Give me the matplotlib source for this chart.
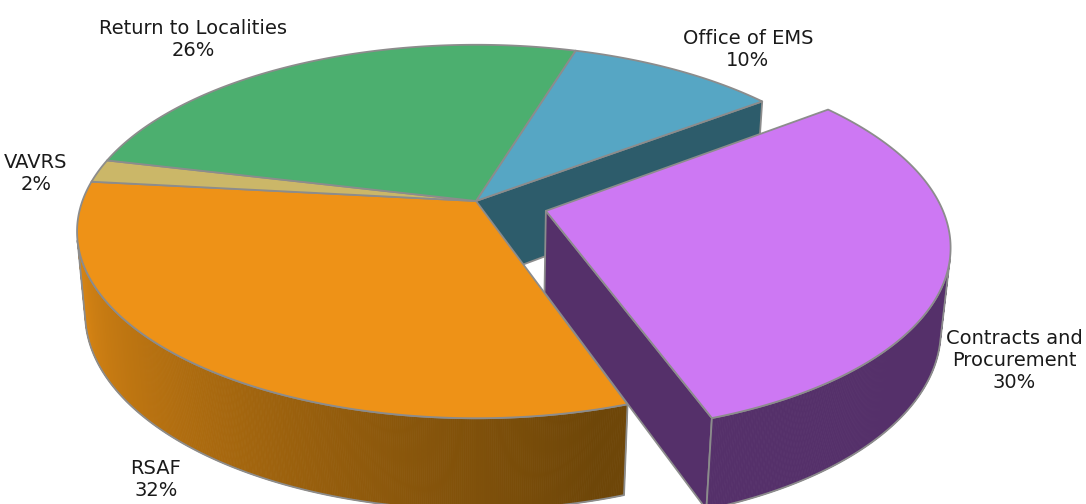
import numpy as np
import matplotlib
matplotlib.use('Agg')
import matplotlib.pyplot as plt
from matplotlib.patches import Polygon
from matplotlib.colors import to_rgb


# Data (clockwise from the top)
labels = ["Office of EMS", "Contracts and\nProcurement", "RSAF", "VAVRS",
          "Return to Localities"]
shares = [10, 30, 32, 2, 26]
explode = [0, 0.184, 0, 0, 0]

top_colors = ["#56a6c4", "#cd78f3", "#ee9217", "#cbb768", "#4caf6f"]
side_colors = ["#2d5c6b", "#55306a", "#6e4608", "#7d6e33", "#2c6b43"]

# label block centres in pixels (layout only)
label_pos = [(748, 50), (1014, 361), (156, 479), (36, 173), (193, 39)]

# View of the tilted pie (perspective camera)
W, H = 1086, 504
start_deg = 73.0
phi = np.radians(27.5)
D = 5.43
scale = 393.6
cx, cy = 476, 201
thick = 0.237
edge = "#8c8c8c"
cam = np.array([0.0, -D * np.cos(phi), D * np.sin(phi)])


def project(X, Y, Z):
    depth = D + Y * np.cos(phi) - Z * np.sin(phi)
    up = Y * np.sin(phi) + Z * np.cos(phi)
    f = scale * D
    return cx + f * X / depth, cy - f * up / depth


def mix(c1, c2, w):
    a, b = np.array(to_rgb(c1)), np.array(to_rgb(c2))
    return tuple(a * (1 - w) + b * w)


fig = plt.figure(figsize=(W / 100, H / 100), dpi=100)
ax = fig.add_axes([0, 0, 1, 1])
ax.set_xlim(0, W)
ax.set_ylim(H, 0)
ax.axis("off")

total = float(sum(shares))
bounds = start_deg - 360 * np.concatenate([[0], np.cumsum(shares)]) / total

slices = []
for i in range(len(shares)):
    a0, a1 = bounds[i], bounds[i + 1]          # a0 > a1 (clockwise)
    mid = np.radians((a0 + a1) / 2)
    off = (explode[i] * np.cos(mid), explode[i] * np.sin(mid))
    n = max(int(abs(a0 - a1) * 4), 8)
    th = np.radians(np.linspace(a0, a1, n))
    slices.append(dict(i=i, a0=a0, a1=a1, off=off, th=th))


def draw_outer_wall(s, z):
    ox, oy = s["off"]
    th = s["th"]
    facing = (np.cos(th) * (cam[0] - ox - np.cos(th))
              + np.sin(th) * (cam[1] - oy - np.sin(th))) > 0
    if facing.sum() < 2:
        return
    t = th[facing]
    xt, yt = project(ox + np.cos(t), oy + np.sin(t), 0.0)
    xb, yb = project(ox + np.cos(t), oy + np.sin(t), -thick)
    i = s["i"]
    for k in range(len(t) - 1):
        deg = np.degrees((t[k] + t[k + 1]) / 2)
        deg = (deg + 360) % 360 - 360       # -360..0
        w = np.clip((-75 - deg) / 110, 0, 0.8)
        col = mix(side_colors[i], top_colors[i], w)
        quad = [(xt[k], yt[k]), (xt[k + 1], yt[k + 1]),
                (xb[k + 1], yb[k + 1]), (xb[k], yb[k])]
        ax.add_patch(Polygon(quad, closed=True, fc=col, ec=col, lw=0.6,
                             zorder=z))
    outline = list(zip(xt, yt)) + list(zip(xb[::-1], yb[::-1]))
    ax.add_patch(Polygon(outline, closed=True, fill=False, ec=edge, lw=1.3,
                         zorder=z + 0.5, joinstyle="round"))


def draw_radial_walls(s, z):
    i = s["i"]
    ox, oy = s["off"]
    n = len(shares)
    for ang, nb, sign in ((s["a0"], (i - 1) % n, 1), (s["a1"], (i + 1) % n, -1)):
        if explode[nb] == explode[i]:
            continue
        a = np.radians(ang)
        nrm = np.radians(ang + sign * 90)
        px, py = ox + 0.5 * np.cos(a), oy + 0.5 * np.sin(a)
        if np.cos(nrm) * (cam[0] - px) + np.sin(nrm) * (cam[1] - py) <= 0:
            continue
        X = [ox, ox + np.cos(a), ox + np.cos(a), ox]
        Y = [oy, oy + np.sin(a), oy + np.sin(a), oy]
        Z = [0, 0, -thick, -thick]
        xs, ys = project(np.array(X), np.array(Y), np.array(Z))
        ax.add_patch(Polygon(list(zip(xs, ys)), closed=True,
                             fc=side_colors[i], ec=edge, lw=1.3, zorder=z,
                             joinstyle="round"))


def draw_top(s, z):
    ox, oy = s["off"]
    th = s["th"]
    xs, ys = project(ox + np.cos(th), oy + np.sin(th), 0.0)
    vx, vy = project(ox, oy, 0.0)
    pts = [(vx, vy)] + list(zip(xs, ys))
    ax.add_patch(Polygon(pts, closed=True, fc=top_colors[s["i"]], ec=edge,
                         lw=1.3, zorder=z, joinstyle="round"))


# main body first, exploded pieces after
groups = [[s for s in slices if explode[s["i"]] == 0],
          [s for s in slices if explode[s["i"]] != 0]]
z = 1
for grp in groups:
    for s in grp:
        draw_radial_walls(s, z)
        draw_outer_wall(s, z)
    z += 2
    for s in grp:
        draw_top(s, z)
    z += 2

for lab, v, (lx, ly) in zip(labels, shares, label_pos):
    ax.text(lx, ly, f"{lab}\n{v}%", ha="center", va="center",
            multialignment="center", fontsize=14, family="DejaVu Sans",
            color="#1a1a1a", linespacing=1.2, zorder=20)

fig.savefig("out.png", dpi=100)
